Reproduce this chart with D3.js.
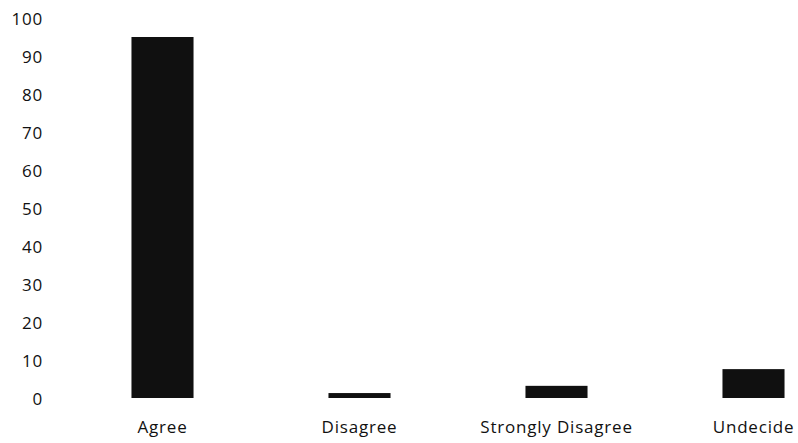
<!DOCTYPE html>
<html>
<head>
<meta charset="utf-8">
<script src="https://cdn.jsdelivr.net/npm/d3@7"></script>
<style>
  body { margin: 0; background: #fff; }
  svg text { font-family: "Open Sans", sans-serif; fill: #111; letter-spacing: 0.8px; }
</style>
</head>
<body>
<div id="chart"></div>
<script>
// chart values
var categories = ["Agree", "Disagree", "Strongly Disagree", "Undecide"];
var values = [95, 1.3, 3.2, 7.6];
var yTicks = [0, 10, 20, 30, 40, 50, 60, 70, 80, 90, 100];

var width = 798, height = 443;

var svg = d3.select("#chart").append("svg")
    .attr("width", width)
    .attr("height", height);

// bands run past the right edge like in the source picture
var x = d3.scaleBand()
    .domain(categories)
    .range([64, 852])
    .paddingInner(0.685)
    .paddingOuter(0.3425);

var y = d3.scaleLinear()
    .domain([0, 100])
    .range([398, 18]);

// y labels, no axis line
var yAxis = svg.append("g")
    .attr("transform", "translate(43,0)")
    .call(d3.axisLeft(y).tickValues(yTicks).tickSize(0).tickPadding(0));
yAxis.select(".domain").remove();
yAxis.selectAll("text")
    .style("font-size", "17px")
    .attr("dy", "0.4em");

svg.selectAll(".bar")
    .data(values)
    .enter().append("rect")
    .attr("class", "bar")
    .attr("x", function(d, i) { return x(categories[i]); })
    .attr("width", x.bandwidth())
    .attr("y", function(d) { return y(d); })
    .attr("height", function(d) { return y(0) - y(d); })
    .attr("fill", "#101010");

var xAxis = svg.append("g")
    .attr("transform", "translate(0,398)")
    .call(d3.axisBottom(x).tickSize(0).tickPadding(0));
xAxis.select(".domain").remove();
xAxis.selectAll("text")
    .style("font-size", "17px")
    .attr("y", 35)
    .attr("dy", 0);
</script>
</body>
</html>
